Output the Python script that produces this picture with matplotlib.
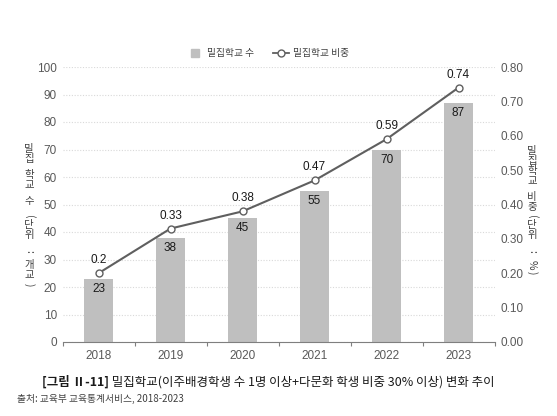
import matplotlib
matplotlib.use("Agg")
import matplotlib.pyplot as plt
from matplotlib.lines import Line2D
import numpy as np

plt.rcParams['font.family'] = ['Liberation Sans', 'Noto Sans CJK KR', 'DejaVu Sans']

years = ['2018', '2019', '2020', '2021', '2022', '2023']
counts = [23, 38, 45, 55, 70, 87]
shares = [0.2, 0.33, 0.38, 0.47, 0.59, 0.74]
share_labels = ['0.2', '0.33', '0.38', '0.47', '0.59', '0.74']

left_label = '밀집 학교 수 (단위 : 개교)'
right_label = '밀집학교 비중(단위 : %)'
legend_labels = ['밀집학교 수', '밀집학교 비중']
title_bold = '[그림 Ⅱ-11]'
title_rest = ' 밀집학교(이주배경학생 수 1명 이상+다문화 학생 비중 30% 이상) 변화 추이'
source = '출처: 교육부 교육통계서비스, 2018-2023'

KR = ['Noto Sans CJK KR', 'DejaVu Sans']
bar_col = '#bfbfbf'
line_col = '#5f5f5f'
tick_col = '#595959'

fig = plt.figure(figsize=(5.57, 4.16), dpi=100)
ax = fig.add_axes([62.5 / 557, 1 - 342 / 416, 432 / 557, 275 / 416])
ax2 = ax.twinx()

x = np.arange(len(years))
ax.bar(x, counts, width=0.4, color=bar_col, zorder=2)
for xi, c in zip(x, counts):
    ax.annotate(str(c), (xi, c), xytext=(0, -3), textcoords='offset points',
                ha='center', va='top', fontsize=8.5, color='#1a1a1a')

ax2.plot(x, shares, color=line_col, lw=1.5, marker='o', ms=5,
         mfc='white', mec=line_col, mew=1.0, zorder=3)
for xi, s, lab in zip(x, shares, share_labels):
    ax2.annotate(lab, (xi, s), xytext=(0, 5), textcoords='offset points',
                 ha='center', va='bottom', fontsize=8.5, color='#1a1a1a')

ax.set_xlim(-0.5, 5.5)
ax.set_ylim(0, 100)
ax2.set_ylim(0, 0.8)
ax.set_yticks(range(0, 101, 10))
ax2.set_yticks(np.arange(0, 0.81, 0.1))
ax2.set_yticklabels(['%.2f' % v for v in np.arange(0, 0.81, 0.1)])
ax.set_xticks(x)
ax.set_xticklabels(years)
ax.set_xticks(np.arange(-0.5, 5.6, 1), minor=True)

ax.grid(axis='y', color='#d9d9d9', ls=(0, (1, 1.5)), lw=0.8, zorder=0)
ax.set_axisbelow(True)
for a in (ax, ax2):
    for side in ('top', 'left', 'right', 'bottom'):
        a.spines[side].set_visible(False)
ax.spines['bottom'].set_visible(True)
ax.spines['bottom'].set_color('#7f7f7f')
ax.spines['bottom'].set_linewidth(0.8)

ax.tick_params(axis='x', which='major', length=0, pad=6, labelsize=8.5, labelcolor=tick_col)
ax.tick_params(axis='x', which='minor', length=3, color='#7f7f7f', width=0.8)
ax.tick_params(axis='y', length=0, pad=4, labelsize=8.5, labelcolor=tick_col)
ax2.tick_params(axis='y', length=0, pad=4, labelsize=8.5, labelcolor=tick_col)


def vertical_text(xc, ytop, text, step=10.0, gap=6.0):
    # stack characters top to bottom, hangul upright, symbols turned
    y = ytop
    for ch in text:
        if ch == ' ':
            y += gap
            continue
        hangul = 0xAC00 <= ord(ch) <= 0xD7A3
        fig.text(xc / 557, 1 - y / 416, ch, ha='center', va='center',
                 rotation=0 if hangul else -90, fontsize=7.5,
                 color='#404040', family=KR)
        y += step if hangul else step * 0.8


vertical_text(29, 149, left_label)
vertical_text(532, 151, right_label)

handles = [Line2D([], [], ls='none', marker='s', ms=6, mfc=bar_col, mec=bar_col),
           Line2D([], [], color=line_col, lw=1.3, marker='o', ms=5,
                  mfc='white', mec=line_col)]
fig.legend(handles, legend_labels, loc='center', bbox_to_anchor=(268 / 557, 1 - 53 / 416),
           ncol=2, frameon=False, prop={'family': KR, 'size': 7},
           handlelength=1.6, handletextpad=0.4, columnspacing=2.0, labelcolor='#404040')

# title: bold prefix + normal rest, sized to span ~450 px
r = fig.canvas.get_renderer()
ty = 1 - 382 / 416
t1 = fig.text(42 / 557, ty, title_bold, ha='left', va='center',
              fontsize=10.5, fontweight='bold', family=KR, color='#1a1a1a')
t2 = fig.text(0, ty, title_rest, ha='left', va='center',
              fontsize=10.5, family=KR, color='#1a1a1a')
w = t1.get_window_extent(r).width + t2.get_window_extent(r).width
fs = 10.5 * 452 / w
t1.set_fontsize(fs)
t2.set_fontsize(fs)
t2.set_x(t1.get_window_extent(r).x1 / 557)

fig.text(17 / 557, 1 - 399 / 416, source, ha='left', va='center',
         fontsize=7, family=KR, color='#404040')

fig.savefig('out.png', dpi=100)
